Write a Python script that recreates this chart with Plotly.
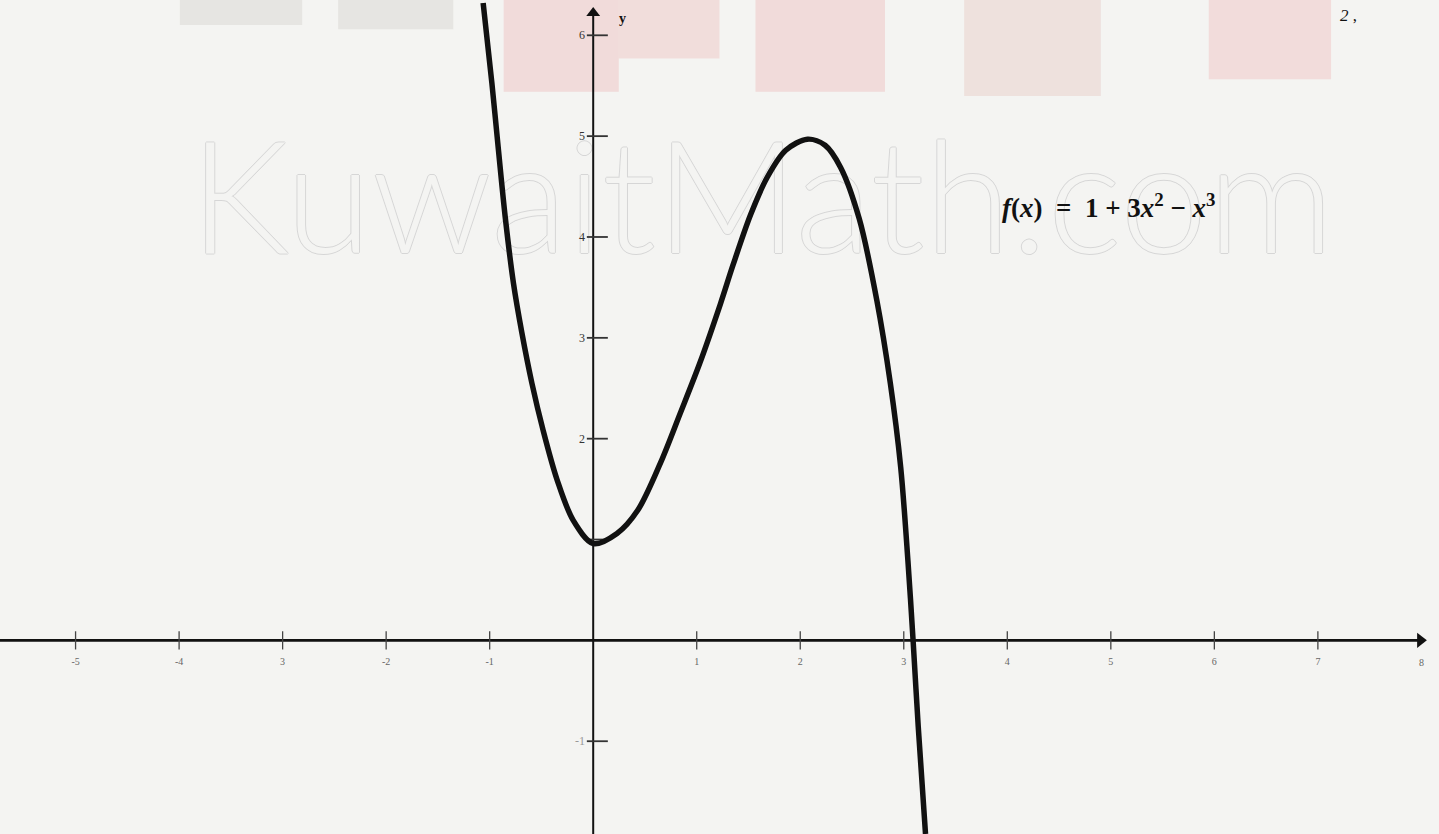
import plotly.graph_objects as go

# curve: f(x) = 1 + 3x^2 - x^3
curve_x = [-1.063, -0.979, -0.915, -0.85, -0.77, -0.689, -0.592, -0.483, -0.348, -0.193, 0.0,
           0.23, 0.43, 0.65, 0.84, 1.03, 1.23, 1.35, 1.52, 1.68, 1.86, 2.07,
           2.24, 2.39, 2.57, 2.74, 2.87, 2.97, 3.04, 3.09, 3.14, 3.21]
curve_y = [6.32, 5.53, 4.86, 4.20, 3.54, 3.05, 2.55, 2.08, 1.59, 1.19, 0.96,
           1.06, 1.29, 1.76, 2.25, 2.75, 3.34, 3.72, 4.22, 4.59, 4.86, 4.97,
           4.91, 4.69, 4.18, 3.37, 2.55, 1.72, 0.79, 0.0, -0.86, -1.92]

x_ticks = [-5, -4, -3, -2, -1, 1, 2, 3, 4, 5, 6, 7]
x_tick_labels = ["-5", "-4", "3", "-2", "-1", "1", "2", "3", "4", "5", "6", "7"]
y_ticks = [-1, 1, 2, 3, 4, 5, 6]
y_label_ticks = [-1, 2, 3, 4, 5, 6]
y_tick_labels = ["-1", "2", "3", "4", "5", "6"]

x_range = [-5.73, 8.17]
y_range = [-1.92, 6.35]
x_arrow_tip = 7.99
y_arrow_tip = 6.22

paper = "#f4f4f2"
ink = "#111111"
serif = "Liberation Serif"

fig = go.Figure()

# faint outlined watermark, under everything else
fig.add_trace(go.Scatter(
    x=[1.63], y=[4.23], mode="text", text=["KuwaitMath.com"],
    textfont=dict(family="Lato", size=157, color=paper, weight=300,
                  shadow="1px 0 #d6d6d6, -1px 0 #d6d6d6, 0 1px #d6d6d6, 0 -1px #d6d6d6"),
    hoverinfo="none", showlegend=False
))

# axes with arrowheads
fig.add_trace(go.Scatter(
    x=[x_range[0], x_arrow_tip], y=[0, 0], mode="lines",
    line=dict(color=ink, width=2.6), hoverinfo="none", showlegend=False
))
fig.add_trace(go.Scatter(
    x=[0, 0], y=[y_range[0], y_arrow_tip], mode="lines",
    line=dict(color=ink, width=2), hoverinfo="none", showlegend=False
))
fig.add_trace(go.Scatter(
    x=[x_arrow_tip], y=[0], mode="markers",
    marker=dict(symbol="triangle-right", size=13, color=ink),
    hoverinfo="none", showlegend=False
))
fig.add_trace(go.Scatter(
    x=[0], y=[y_arrow_tip], mode="markers",
    marker=dict(symbol="triangle-up", size=12, color=ink),
    hoverinfo="none", showlegend=False
))

# tick marks
fig.add_trace(go.Scatter(
    x=x_ticks, y=[0] * len(x_ticks), mode="markers",
    marker=dict(symbol="line-ns", size=13, line=dict(color="#444", width=1.3)),
    hoverinfo="none", showlegend=False
))
fig.add_trace(go.Scatter(
    x=[0.04] * len(y_ticks), y=y_ticks, mode="markers",
    marker=dict(symbol="line-ew", size=15, line=dict(color="#333", width=1.8)),
    hoverinfo="none", showlegend=False
))

# x tick labels
fig.add_trace(go.Scatter(
    x=x_ticks, y=[-0.22] * len(x_ticks), mode="text",
    text=x_tick_labels, textfont=dict(family=serif, size=10, color="#666"),
    hoverinfo="none", showlegend=False
))

# the curve
fig.add_trace(go.Scatter(
    x=curve_x, y=curve_y, mode="lines",
    line=dict(color=ink, width=5.5, shape="spline", smoothing=0.9),
    hoverinfo="none", showlegend=False
))

annotations = [
    dict(x=8.0, y=-0.22, text="8", showarrow=False,
         font=dict(family=serif, size=10, color="#666")),
    dict(x=0.28, y=6.17, text="<b>y</b>", showarrow=False,
         font=dict(family=serif, size=14, color=ink)),
    dict(x=4.98, y=4.31, showarrow=False,
         text="<b><i>f</i>(<i>x</i>)  =  1 + 3<i>x</i><sup>2</sup> − <i>x</i><sup>3</sup></b>",
         font=dict(family=serif, size=27, color=ink)),
    dict(x=7.3, y=6.2, text="<i>2</i> ,", showarrow=False,
         font=dict(family=serif, size=17, color=ink)),
]
for yv, lab in zip(y_label_ticks, y_tick_labels):
    annotations.append(dict(x=0, y=yv, text=lab, showarrow=False, xanchor="right",
                            xshift=-6, font=dict(family=serif, size=12,
                                                 color="#999" if yv < 0 else "#333")))

# faded colour blotches at the top of the scan
blotches = [
    (0.125, 0.21, 0.97, 1.0, "rgba(160,155,145,0.16)"),
    (0.235, 0.315, 0.965, 1.0, "rgba(160,155,145,0.16)"),
    (0.35, 0.43, 0.89, 1.0, "rgba(230,130,130,0.22)"),
    (0.43, 0.50, 0.93, 1.0, "rgba(230,130,130,0.2)"),
    (0.525, 0.615, 0.89, 1.0, "rgba(230,130,130,0.22)"),
    (0.67, 0.765, 0.885, 1.0, "rgba(215,150,140,0.2)"),
    (0.84, 0.925, 0.905, 1.0, "rgba(235,135,135,0.22)"),
]
shapes = [dict(type="rect", xref="paper", yref="paper", x0=a, x1=b, y0=c, y1=d,
               fillcolor=col, line=dict(width=0), layer="below")
          for a, b, c, d, col in blotches]

fig.update_layout(
    width=1439, height=834,
    margin=dict(l=0, r=0, t=0, b=0),
    paper_bgcolor=paper, plot_bgcolor=paper,
    xaxis=dict(range=x_range, visible=False, fixedrange=True),
    yaxis=dict(range=y_range, visible=False, fixedrange=True),
    annotations=annotations,
    shapes=shapes,
    showlegend=False,
)

fig.write_html("out.html", config={"displayModeBar": False},
               post_script="document.body.style.margin='0';")
